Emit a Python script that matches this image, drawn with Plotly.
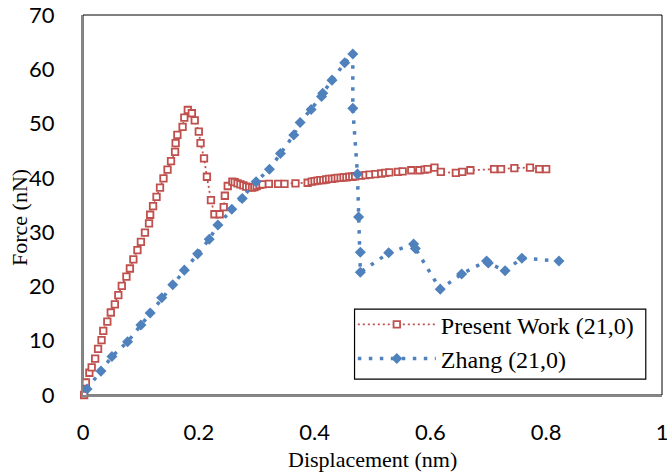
import plotly.graph_objects as go

# Present Work (21,0)
present_x = [0.002, 0.005, 0.011, 0.015, 0.021, 0.026, 0.032, 0.035, 0.042, 0.048,
             0.055, 0.061, 0.067, 0.075, 0.081, 0.087, 0.094, 0.100, 0.107, 0.114,
             0.116, 0.121, 0.127, 0.133, 0.139, 0.146, 0.152, 0.159, 0.160, 0.163,
             0.172, 0.175, 0.181, 0.188, 0.193, 0.200, 0.203, 0.209, 0.214, 0.221,
             0.227, 0.236, 0.243, 0.245, 0.250, 0.258, 0.262, 0.267, 0.272, 0.277,
             0.282, 0.287, 0.292, 0.296, 0.300, 0.305, 0.310, 0.321, 0.337, 0.348,
             0.367, 0.388, 0.395, 0.400, 0.405, 0.410, 0.415, 0.420, 0.425, 0.430,
             0.435, 0.440, 0.445, 0.450, 0.455, 0.460, 0.465, 0.470, 0.480, 0.488,
             0.495, 0.505, 0.515, 0.522, 0.529, 0.544, 0.552, 0.567, 0.581, 0.590,
             0.595, 0.607, 0.618, 0.644, 0.655, 0.669, 0.710, 0.722, 0.745, 0.772,
             0.788, 0.800]
present_y = [0.0, 2.3, 4.1, 5.1, 6.7, 8.5, 10.1, 11.8, 13.5, 15.2,
             16.7, 18.4, 20.1, 21.8, 23.3, 25.0, 26.7, 28.2, 29.9, 31.6,
             33.2, 34.8, 36.5, 38.2, 39.9, 41.5, 43.1, 44.8, 46.4, 47.9,
             49.4, 51.1, 52.5, 51.9, 50.6, 48.5, 46.4, 43.6, 40.2, 35.9,
             33.3, 33.3, 34.6, 36.7, 38.5, 39.3, 39.2, 39.0, 38.8, 38.6,
             38.4, 38.3, 38.2, 38.3, 38.5, 38.7, 38.8, 38.9, 38.9, 38.9,
             39.0, 39.1, 39.3, 39.4, 39.5, 39.6, 39.6, 39.7, 39.8, 39.8,
             39.9, 40.0, 40.0, 40.1, 40.1, 40.2, 40.2, 40.3, 40.4, 40.5,
             40.6, 40.7, 40.8, 40.9, 41.0, 41.1, 41.2, 41.4, 41.4, 41.5,
             41.6, 41.9, 41.1, 40.9, 41.1, 41.4, 41.6, 41.6, 41.8, 41.9,
             41.6, 41.6]

# Zhang (21,0)
zhang_x = [0.007, 0.031, 0.050, 0.077, 0.100, 0.116, 0.136, 0.155, 0.175, 0.198,
           0.218, 0.233, 0.257, 0.275, 0.299, 0.322, 0.341, 0.364, 0.375, 0.394,
           0.412, 0.414, 0.430, 0.452, 0.466, 0.466, 0.474, 0.476, 0.479, 0.479,
           0.528, 0.571, 0.574, 0.617, 0.654, 0.697, 0.700, 0.729, 0.758, 0.822]
zhang_y = [1.1, 4.4, 7.1, 9.8, 12.9, 15.1, 17.9, 20.3, 23.0, 26.0,
           28.7, 31.3, 34.2, 36.2, 39.3, 41.6, 44.5, 47.9, 50.2, 52.6,
           55.0, 55.6, 58.0, 61.2, 62.8, 52.8, 40.7, 32.8, 26.3, 22.6,
           26.2, 27.8, 27.0, 19.5, 22.3, 24.7, 24.3, 22.9, 25.2, 24.7]

x_ticks = [0, 0.2, 0.4, 0.6, 0.8, 1]
x_tick_text = ["0", "0.2", "0.4", "0.6", "0.8", "1"]
y_ticks = [0, 10, 20, 30, 40, 50, 60, 70]
x_title = "Displacement (nm)"
y_title = "Force (nN)"

RED = "#C0504D"
BLUE = "#4F81BD"

fig = go.Figure()
fig.add_trace(go.Scatter(
    x=present_x, y=present_y, name="Present Work (21,0)", mode="lines+markers",
    line=dict(color=RED, width=1.8, dash="2px,3px"),
    marker=dict(symbol="square", size=6.5, color="white", line=dict(color=RED, width=1.8)),
    cliponaxis=False,
))
fig.add_trace(go.Scatter(
    x=zhang_x, y=zhang_y, name="Zhang (21,0)", mode="lines+markers",
    line=dict(color=BLUE, width=3.5, dash="3.5px,7.5px"),
    marker=dict(symbol="diamond", size=8.5, color=BLUE, line=dict(width=0)),
    cliponaxis=False,
))

tick_font = dict(family="Lato, Carlito, sans-serif", size=22, color="black")
title_font = dict(family="Liberation Serif, Times New Roman, serif", size=22, color="black")

fig.update_layout(
    width=667, height=475,
    margin=dict(l=83, r=5, t=15, b=80),
    paper_bgcolor="white", plot_bgcolor="white",
    showlegend=True,
    legend=dict(
        x=0.466, y=0.244, xanchor="left", yanchor="top",
        bgcolor="rgba(0,0,0,0)", borderwidth=0,
        font=dict(family="Liberation Serif, Times New Roman, serif", size=24, color="black"),
        itemwidth=78, tracegroupgap=0,
    ),
    xaxis=dict(
        range=[0, 1], tickvals=x_ticks, ticktext=x_tick_text,
        showgrid=False, zeroline=False, automargin=False,
        showline=True, linecolor="#868686", linewidth=2,
        ticks="outside", ticklen=17, tickcolor="rgba(0,0,0,0)",
        ticklabeloverflow="allow",
        tickfont=tick_font,
    ),
    yaxis=dict(
        range=[0, 70], tickvals=y_ticks,
        showgrid=False, zeroline=False, automargin=False,
        showline=True, linecolor="#868686", linewidth=2,
        ticks="outside", ticklen=22, tickcolor="rgba(0,0,0,0)",
        tickfont=tick_font,
    ),
    shapes=[
        dict(type="rect", xref="paper", yref="paper", x0=0, y0=0, x1=1, y1=1,
             line=dict(color="black", width=1), layer="below"),
        dict(type="rect", xref="paper", yref="paper", x0=0.469, x1=0.972, y0=0.042, y1=0.226,
             line=dict(color="black", width=1.2), fillcolor="white", layer="above"),
    ],
    annotations=[
        dict(text=x_title, xref="paper", yref="paper", x=0.5, y=-0.171,
             xanchor="center", yanchor="middle", showarrow=False, font=title_font),
        dict(text=y_title, xref="paper", yref="paper", x=-0.1086, y=0.466,
             xanchor="center", yanchor="middle", showarrow=False, font=title_font,
             textangle=-90),
    ],
)

fig.write_html("out.html")
